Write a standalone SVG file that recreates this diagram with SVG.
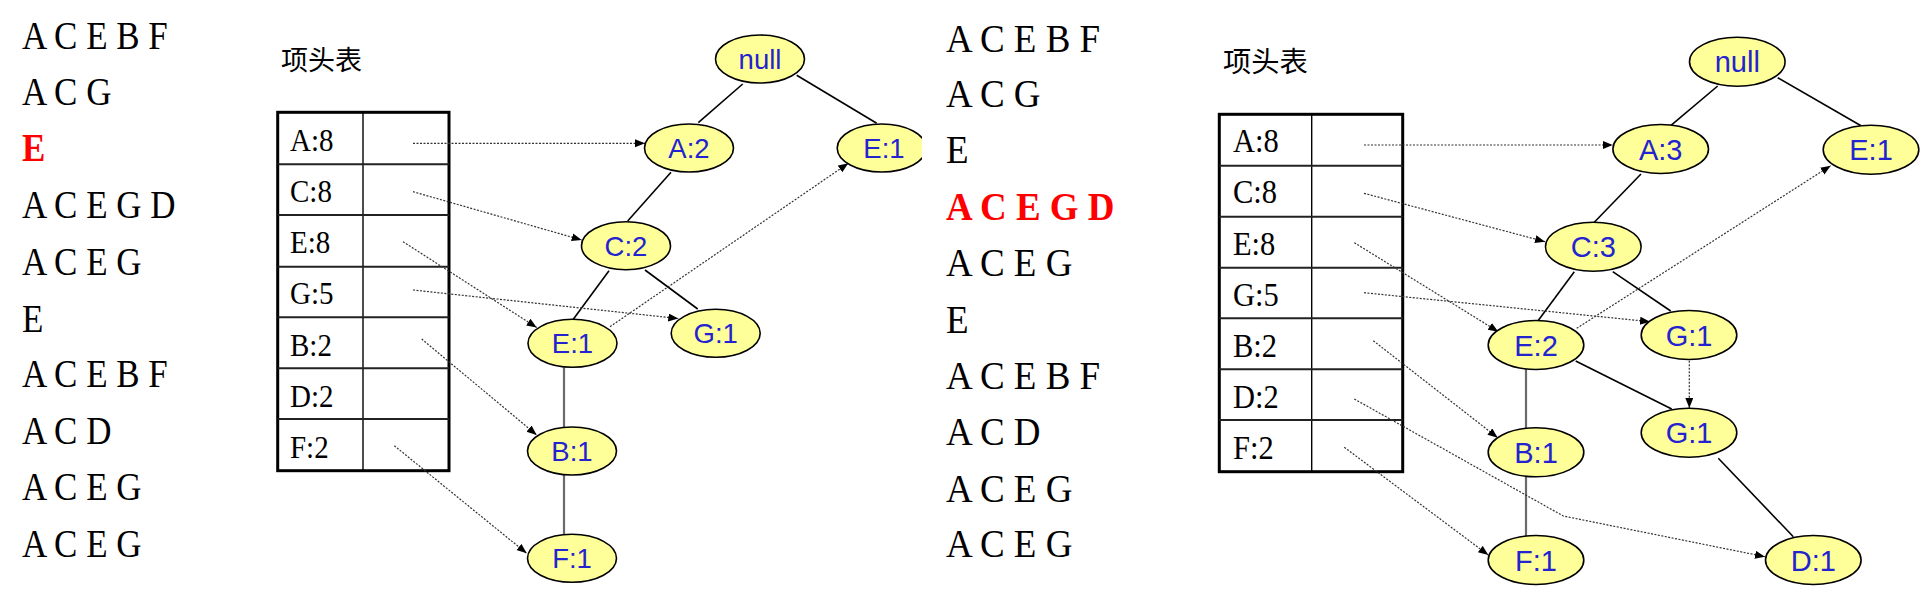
<svg xmlns="http://www.w3.org/2000/svg" width="1920" height="604" viewBox="0 0 1920 604">
<style>
.lst{font-family:"Liberation Serif","Times New Roman",serif;fill:#000}
.red{fill:#ff0000;font-weight:bold}
.cjk{font-family:"Noto Sans CJK SC","Noto Sans CJK JP",sans-serif;fill:#000}
.lbl{font-family:"Liberation Serif","Times New Roman",serif;fill:#000}
.node ellipse{fill:#ffff99;stroke:#000;stroke-width:1.6}
.node text{font-family:"Liberation Sans",Arial,sans-serif;fill:#2323d0;text-anchor:middle}
.edge{stroke:#000;stroke-width:1.6;fill:none}
.vert{stroke:#6a6a6a;stroke-width:2.2;fill:none}
.ptr{stroke:#333;stroke-width:1.2;stroke-dasharray:2 1.5;fill:none;marker-end:url(#ah)}
.tbl-out{fill:none;stroke:#000;stroke-width:3}
.tbl-row{stroke:#222;stroke-width:2}
.tbl-col{stroke:#000;stroke-width:1.4}
</style>
<defs>
<marker id="ah" markerUnits="userSpaceOnUse" markerWidth="12" markerHeight="10" refX="10" refY="4" orient="auto">
<path d="M0,0 L10,4 L0,8 z" fill="#000"/>
</marker>
<clipPath id="leftclip"><rect x="0" y="0" width="922" height="604"/></clipPath>
</defs>
<rect width="1920" height="604" fill="#fff"/>

<!-- Left panel transactions -->
<g id="left-list" class="lst" font-size="35">
<text transform="translate(22 49) scale(1 1.12)">A C E B F</text>
<text transform="translate(22 105) scale(1 1.12)">A C G</text>
<text class="red" transform="translate(22 161) scale(1 1.12)">E</text>
<text transform="translate(22 218) scale(1 1.12)">A C E G D</text>
<text transform="translate(22 275) scale(1 1.12)">A C E G</text>
<text transform="translate(22 332) scale(1 1.12)">E</text>
<text transform="translate(22 387) scale(1 1.12)">A C E B F</text>
<text transform="translate(22 444) scale(1 1.12)">A C D</text>
<text transform="translate(22 500) scale(1 1.12)">A C E G</text>
<text transform="translate(22 557) scale(1 1.12)">A C E G</text>
</g>

<!-- Left header table -->
<g id="left-table">
<text class="cjk" x="281" y="69.5" font-size="27">项头表</text>
<rect class="tbl-out" x="277.7" y="112.3" width="171.3" height="358.4"/>
<line class="tbl-col" x1="363" y1="112.3" x2="363" y2="470.7"/>
<line class="tbl-row" x1="277.7" y1="164.3" x2="449" y2="164.3"/>
<line class="tbl-row" x1="277.7" y1="215" x2="449" y2="215"/>
<line class="tbl-row" x1="277.7" y1="266.7" x2="449" y2="266.7"/>
<line class="tbl-row" x1="277.7" y1="317.3" x2="449" y2="317.3"/>
<line class="tbl-row" x1="277.7" y1="368.3" x2="449" y2="368.3"/>
<line class="tbl-row" x1="277.7" y1="419" x2="449" y2="419"/>
<g class="lbl" font-size="29">
<text transform="translate(290 150.7) scale(1 1.1)">A:8</text>
<text transform="translate(290 201.9) scale(1 1.1)">C:8</text>
<text transform="translate(290 253.1) scale(1 1.1)">E:8</text>
<text transform="translate(290 304.3) scale(1 1.1)">G:5</text>
<text transform="translate(290 355.5) scale(1 1.1)">B:2</text>
<text transform="translate(290 406.7) scale(1 1.1)">D:2</text>
<text transform="translate(290 457.9) scale(1 1.1)">F:2</text>
</g>
</g>

<!-- Left connectors -->
<g id="left-connectors" clip-path="url(#leftclip)">
<line class="edge" x1="742.7" y1="84" x2="698.3" y2="122.7"/>
<line class="edge" x1="796.7" y1="75.3" x2="876.7" y2="123.3"/>
<line class="edge" x1="671" y1="172.3" x2="627.7" y2="221"/>
<line class="edge" x1="609" y1="270.7" x2="573.3" y2="319.3"/>
<line class="edge" x1="645" y1="270" x2="697.7" y2="309"/>
<line class="vert" x1="564" y1="367.5" x2="564" y2="427"/>
<line class="vert" x1="564" y1="475" x2="564" y2="534.5"/>
<line class="ptr" x1="413" y1="143.3" x2="645" y2="143.3"/>
<line class="ptr" x1="413" y1="191.7" x2="581.7" y2="240"/>
<line class="ptr" x1="403" y1="241.7" x2="536.7" y2="327.5"/>
<line class="ptr" x1="413" y1="290" x2="678.3" y2="318.5"/>
<line class="ptr" x1="421.7" y1="339" x2="536.7" y2="435"/>
<line class="ptr" x1="394.3" y1="445.7" x2="526.7" y2="553.3"/>
<line class="ptr" x1="610" y1="326.7" x2="848.3" y2="163.3"/>
</g>

<!-- Left nodes -->
<g clip-path="url(#leftclip)">
<g id="L-null" class="node"><ellipse cx="760" cy="59" rx="44.5" ry="24"/><text x="760" y="69" font-size="27.5">null</text></g>
<g id="L-A2" class="node"><ellipse cx="689" cy="148" rx="44.5" ry="24"/><text x="689" y="158" font-size="27.5">A:2</text></g>
<g id="L-E1r" class="node"><ellipse cx="881.7" cy="148" rx="44.5" ry="24"/><text x="884" y="158" font-size="27.5">E:1</text></g>
<g id="L-C2" class="node"><ellipse cx="626" cy="245.7" rx="44.5" ry="24"/><text x="626" y="255.7" font-size="27.5">C:2</text></g>
<g id="L-E1" class="node"><ellipse cx="572.5" cy="343.3" rx="44.5" ry="24"/><text x="572.5" y="353.3" font-size="27.5">E:1</text></g>
<g id="L-G1" class="node"><ellipse cx="715.7" cy="333.3" rx="44.5" ry="24"/><text x="715.7" y="343.3" font-size="27.5">G:1</text></g>
<g id="L-B1" class="node"><ellipse cx="572" cy="451" rx="44.5" ry="24"/><text x="572" y="461" font-size="27.5">B:1</text></g>
<g id="L-F1" class="node"><ellipse cx="572" cy="558.3" rx="44.5" ry="24"/><text x="572" y="568.3" font-size="27.5">F:1</text></g>
</g>

<!-- Right panel transactions -->
<g id="right-list" class="lst" font-size="37">
<text transform="translate(946 52) scale(1 1.08)">A C E B F</text>
<text transform="translate(946 107) scale(1 1.08)">A C G</text>
<text transform="translate(946 163) scale(1 1.08)">E</text>
<text class="red" transform="translate(946 220) scale(1 1.08)">A C E G D</text>
<text transform="translate(946 276) scale(1 1.08)">A C E G</text>
<text transform="translate(946 333) scale(1 1.08)">E</text>
<text transform="translate(946 389) scale(1 1.08)">A C E B F</text>
<text transform="translate(946 445) scale(1 1.08)">A C D</text>
<text transform="translate(946 502) scale(1 1.08)">A C E G</text>
<text transform="translate(946 557) scale(1 1.08)">A C E G</text>
</g>

<!-- Right header table -->
<g id="right-table">
<text class="cjk" x="1223" y="72" font-size="28.3">项头表</text>
<rect class="tbl-out" x="1219.3" y="114.3" width="183.4" height="357.4"/>
<line class="tbl-col" x1="1311.7" y1="114.3" x2="1311.7" y2="471.7"/>
<line class="tbl-row" x1="1219.3" y1="165.7" x2="1402.7" y2="165.7"/>
<line class="tbl-row" x1="1219.3" y1="216.7" x2="1402.7" y2="216.7"/>
<line class="tbl-row" x1="1219.3" y1="267.7" x2="1402.7" y2="267.7"/>
<line class="tbl-row" x1="1219.3" y1="318.3" x2="1402.7" y2="318.3"/>
<line class="tbl-row" x1="1219.3" y1="369.3" x2="1402.7" y2="369.3"/>
<line class="tbl-row" x1="1219.3" y1="420" x2="1402.7" y2="420"/>
<g class="lbl" font-size="30.5">
<text transform="translate(1233 152.3) scale(1 1.1)">A:8</text>
<text transform="translate(1233 203.4) scale(1 1.1)">C:8</text>
<text transform="translate(1233 254.5) scale(1 1.1)">E:8</text>
<text transform="translate(1233 305.6) scale(1 1.1)">G:5</text>
<text transform="translate(1233 356.7) scale(1 1.1)">B:2</text>
<text transform="translate(1233 407.8) scale(1 1.1)">D:2</text>
<text transform="translate(1233 458.9) scale(1 1.1)">F:2</text>
</g>
</g>

<!-- Right connectors -->
<g id="right-connectors">
<line class="edge" x1="1717.7" y1="86" x2="1670.7" y2="125.7"/>
<line class="edge" x1="1777.7" y1="77.7" x2="1861" y2="125.7"/>
<line class="edge" x1="1641" y1="174" x2="1594.3" y2="222.3"/>
<line class="edge" x1="1574.3" y1="271.7" x2="1537.3" y2="321.7"/>
<line class="edge" x1="1612.7" y1="271.7" x2="1670.7" y2="311"/>
<line class="edge" x1="1575.7" y1="361" x2="1671.7" y2="409"/>
<line class="edge" x1="1718.3" y1="458.3" x2="1793.3" y2="536.7"/>
<line class="vert" x1="1526" y1="369" x2="1526" y2="428"/>
<line class="vert" x1="1526" y1="477" x2="1526" y2="536"/>
<line class="ptr" x1="1364" y1="145" x2="1612.7" y2="145"/>
<line class="ptr" x1="1364" y1="193.3" x2="1545" y2="241.7"/>
<line class="ptr" x1="1354.3" y1="242.7" x2="1498.3" y2="331.7"/>
<line class="ptr" x1="1364" y1="292.7" x2="1650" y2="321.7"/>
<line class="ptr" x1="1373.3" y1="340.7" x2="1497.7" y2="437.7"/>
<polyline class="ptr" points="1354.3,399 1563.3,516 1765,556.7"/>
<line class="ptr" x1="1344.3" y1="447.3" x2="1488.3" y2="555"/>
<line class="ptr" x1="1576.7" y1="328.3" x2="1830.7" y2="165.7"/>
<line class="ptr" x1="1689.3" y1="360.7" x2="1689.3" y2="408"/>
</g>

<!-- Right nodes -->
<g id="R-null" class="node"><ellipse cx="1737.3" cy="61.7" rx="47.8" ry="24.5"/><text x="1737.3" y="72.2" font-size="29">null</text></g>
<g id="R-A3" class="node"><ellipse cx="1660.7" cy="149" rx="47.8" ry="24.5"/><text x="1660.7" y="159.5" font-size="29">A:3</text></g>
<g id="R-E1r" class="node"><ellipse cx="1871" cy="149.7" rx="47.8" ry="24.5"/><text x="1871" y="160.2" font-size="29">E:1</text></g>
<g id="R-C3" class="node"><ellipse cx="1593.3" cy="246.7" rx="47.8" ry="24.5"/><text x="1593.3" y="257.2" font-size="29">C:3</text></g>
<g id="R-E2" class="node"><ellipse cx="1536" cy="345" rx="47.8" ry="24.5"/><text x="1536" y="355.5" font-size="29">E:2</text></g>
<g id="R-G1a" class="node"><ellipse cx="1689" cy="335" rx="47.8" ry="24.5"/><text x="1689" y="345.5" font-size="29">G:1</text></g>
<g id="R-G1b" class="node"><ellipse cx="1689" cy="432.7" rx="47.8" ry="24.5"/><text x="1689" y="443.2" font-size="29">G:1</text></g>
<g id="R-B1" class="node"><ellipse cx="1536" cy="452.3" rx="47.8" ry="24.5"/><text x="1536" y="462.8" font-size="29">B:1</text></g>
<g id="R-F1" class="node"><ellipse cx="1536" cy="560" rx="47.8" ry="24.5"/><text x="1536" y="570.5" font-size="29">F:1</text></g>
<g id="R-D1" class="node"><ellipse cx="1813.3" cy="560" rx="47.8" ry="24.5"/><text x="1813.3" y="570.5" font-size="29">D:1</text></g>
</svg>
